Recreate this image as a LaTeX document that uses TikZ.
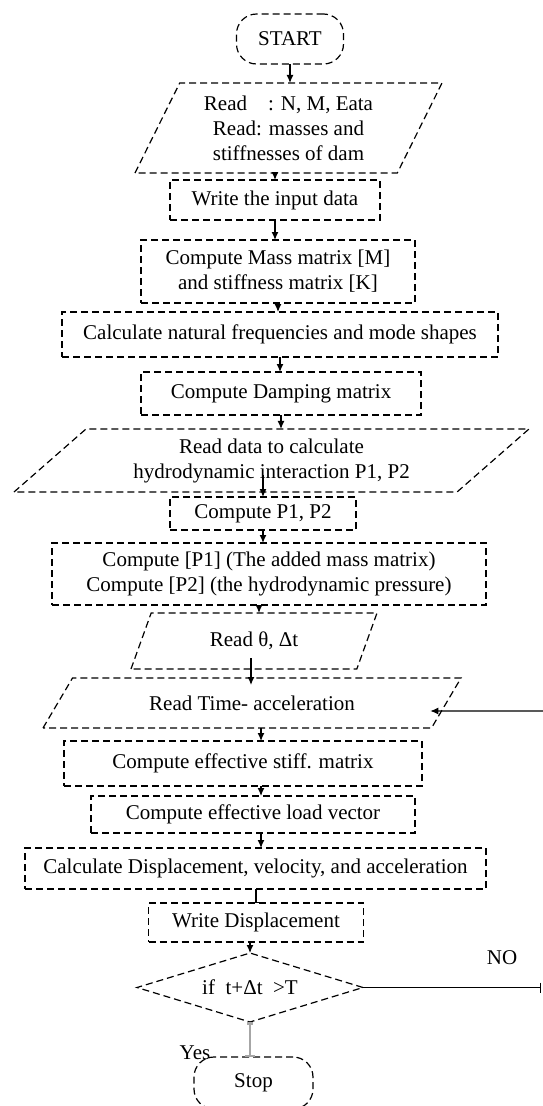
\documentclass[tikz,border=0pt]{standalone}
\usepackage{fontspec}
\setmainfont{Liberation Serif}
\usetikzlibrary{shapes.geometric,arrows.meta}

\tikzset{
	dashbox/.style={draw, dash pattern=on 7pt off 4pt, line width=1.2pt},
	proc/.style={dashbox, rectangle},
	termbox/.style={dashbox, rectangle, rounded corners=20pt},
	io/.style 2 args={dashbox, trapezium, trapezium stretches body,
		trapezium left angle=#1, trapezium right angle=#2},
	decbox/.style={dashbox, diamond, aspect=3.3},
	arr/.style={-{Latex[length=8pt,width=7pt]}, line width=1.2pt},
	bararr/.style={-{Bar[width=9pt]}, line width=1.2pt},
	yesline/.style={{Bar[width=6pt]}-{Bar[width=10pt]}, line width=2.5pt, gray!70},
	noline/.style={-{Bar[width=10pt]}, line width=1.2pt}
}

\begin{document}
\begin{tikzpicture}[x=1pt, y=-1pt, font=\fontsize{21}{25}\selectfont,
		every node/.style={align=center, inner sep=0pt, outer sep=0pt}]
		\useasboundingbox (0,0) rectangle (542,1106);
		
		\node[termbox, minimum width=107, minimum height=50] (start) at (290,39) {START};
		\node[io={55.4}{124.6}, minimum width=307, minimum height=90] (par1) at (288.5,128) {Read\quad: N, M, Eata\\Read: masses and\\stiffnesses of dam};
		\node[proc, minimum width=210, minimum height=40] (write) at (275,200) {Write the input data};
		\node[proc, minimum width=274, minimum height=63] (mass) at (278,271.5) {Compute Mass matrix [M]\\and stiffness matrix [K]};
		\node[proc, minimum width=436, minimum height=45] (natfreq) at (280,334.5) {Calculate natural frequencies and mode shapes};
		\node[proc, minimum width=280, minimum height=43] (damp) at (281,393.5) {Compute Damping matrix};
		\node[io={31.5}{148.5}, minimum width=515, minimum height=63] (hydro) at (271.5,460.5) {Read data to calculate\\hydrodynamic interaction P1, P2};
		\node[proc, minimum width=186, minimum height=33] (cp) at (263,513.5) {Compute P1, P2};
		\node[proc, minimum width=434, minimum height=62] (cpp) at (269,574) {Compute [P1] (The added mass matrix)\\Compute [P2] (the hydrodynamic pressure)};
		\node[io={41.6}{138.4}, minimum width=246, minimum height=56] (theta) at (254,641) {Read θ, Δt};
		\node[io={26.6}{153.4}, minimum width=418, minimum height=50] (accel) at (252,703) {Read Time- acceleration};
		\node[proc, minimum width=358, minimum height=45] (effstiff) at (243,763.5) {Compute effective stiff. matrix};
		\node[proc, minimum width=324, minimum height=37] (effload) at (253,814.5) {Compute effective load vector};
		\node[proc, minimum width=461, minimum height=41] (disp) at (255.5,868.5) {Calculate Displacement, velocity, and acceleration};
		\node[proc, minimum width=215, minimum height=39] (wdisp) at (256,922.5) {Write Displacement};
		\node[decbox, minimum width=226, minimum height=69] (check) at (250,987.5) {if\ \ t+Δt\ \ >T};
		\node[termbox, minimum width=119, minimum height=52] (stop) at (253.5,1083) {Stop};
		\node (yes) at (195,1053) {Yes};
		\node (no) at (502,958) {NO};
		\coordinate (loopout) at (541,987.5);
		\coordinate (loopin) at (548,711);
		
		\draw[arr] (start.south) -- (start.south |- par1.north);
		\draw[arr] (write.north |- par1.south) -- (write.north);
		\draw[arr] (write.south) -- (write.south |- mass.north);
		\draw[arr] (mass.south) -- (mass.south |- natfreq.north);
		\draw[arr] (natfreq.south) -- (natfreq.south |- damp.north);
		\draw[arr] (damp.south) -- (damp.south |- hydro.north);
		\draw[arr] ([yshift=17pt]cp.north |- hydro.south) -- (cp.north);
		\draw[arr] (cp.south) -- (cp.south |- cpp.north);
		\draw[arr] ([xshift=5pt]theta |- cpp.south) -- ([xshift=5pt]theta |- theta.north);
		\draw[arr] ([xshift=-3pt,yshift=11pt]theta |- theta.south) -- ([xshift=-3pt,yshift=-7pt]theta |- accel.north);
		\draw[arr] ([xshift=9pt]accel |- accel.south) -- ([xshift=9pt]accel |- effstiff.north);
		\draw[arr] ([xshift=8pt]effload |- effstiff.south) -- ([xshift=8pt]effload.north);
		\draw[arr] ([xshift=8pt]effload.south) -- ([xshift=8pt]effload.south |- disp.north);
		\draw[bararr] (wdisp.north |- disp.south) -- (wdisp.north);
		\draw[arr] (check.north |- wdisp.south) -- (check.north);
		\draw[yesline] (check.south) -- (check.south |- stop.north);
		\draw[noline] (check.east) -- (check.east -| loopout);
		\draw[arr] (loopin) -- ([xshift=-16pt,yshift=-8pt]accel.east);
	\end{tikzpicture}
\end{document}
